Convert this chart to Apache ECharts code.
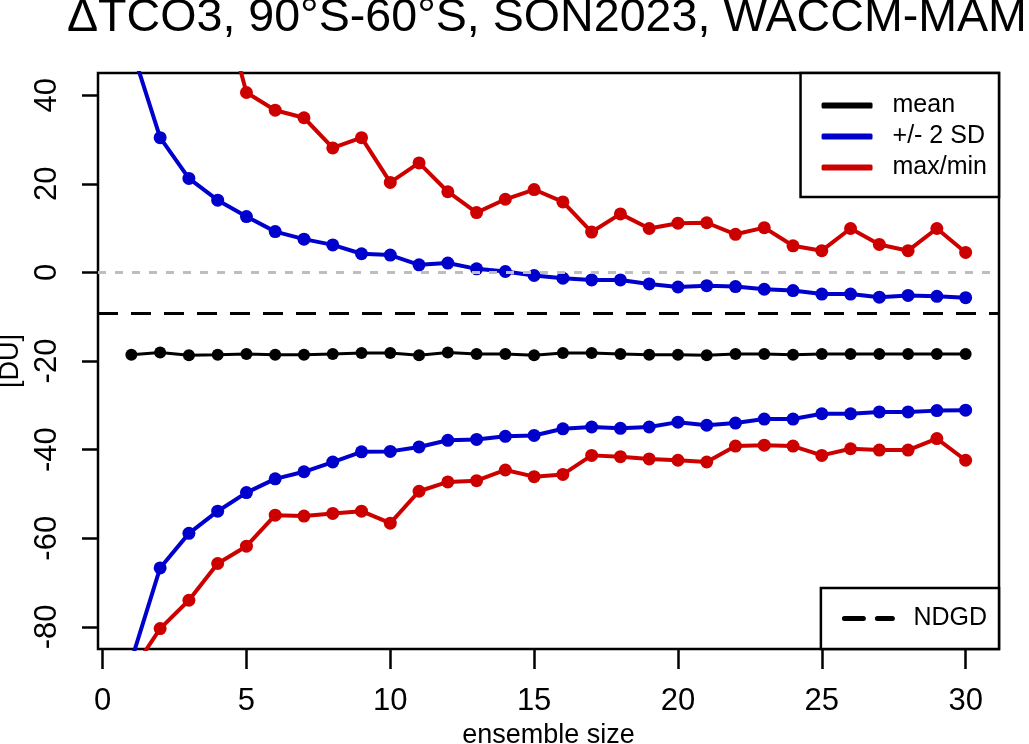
<!DOCTYPE html>
<html>
<head>
  <meta charset="utf-8">
  <title>TCO3 ensemble size</title>
  <script src="https://cdn.jsdelivr.net/npm/echarts@6/dist/echarts.min.js"></script>
  <style type="text/css">
    body {
      margin: 0;
      padding: 0;
      background: #fff;
    }
    #main {
      width: 1029px;
      height: 744px;
    }
  </style>
</head>
<body>
<div id="main"></div>
<script>
  // ensemble sizes 1..30
  var ensembleSize = [1, 2, 3, 4, 5, 6, 7, 8, 9, 10, 11, 12, 13, 14, 15,
    16, 17, 18, 19, 20, 21, 22, 23, 24, 25, 26, 27, 28, 29, 30];
  var meanVals = [-18.6, -18.1, -18.7, -18.6, -18.4, -18.6, -18.6, -18.4, -18.2, -18.2,
    -18.7, -18.1, -18.4, -18.4, -18.7, -18.2, -18.2, -18.4, -18.6, -18.6,
    -18.7, -18.4, -18.4, -18.6, -18.4, -18.4, -18.4, -18.4, -18.4, -18.4];
  var sdUpper = [50.8, 30.4, 21.2, 16.3, 12.6, 9.2, 7.5, 6.2, 4.2, 3.9,
    1.7, 2.1, 0.8, 0.2, -0.7, -1.3, -1.7, -1.7, -2.6, -3.3,
    -3.0, -3.2, -3.8, -4.1, -4.9, -4.9, -5.6, -5.2, -5.4, -5.7];
  var sdLower = [-87.6, -66.7, -58.9, -53.9, -49.7, -46.6, -45.0, -42.8, -40.5, -40.4,
    -39.4, -37.9, -37.7, -37.0, -36.8, -35.3, -34.9, -35.2, -34.9, -33.8,
    -34.5, -34.0, -33.1, -33.1, -31.9, -31.9, -31.5, -31.5, -31.2, -31.1];
  var maxVals = [70, 72, 68, 64.6, 40.6, 36.6, 34.9, 28.1, 30.4, 20.3,
    24.7, 18.2, 13.5, 16.5, 18.7, 15.9, 9.1, 13.2, 9.9, 11.1,
    11.2, 8.6, 10.1, 6.0, 4.9, 9.9, 6.3, 4.9, 9.9, 4.5];
  var minVals = [-90.2, -80.4, -74.0, -65.7, -61.8, -54.8, -55.0, -54.4, -53.9, -56.6,
    -49.4, -47.3, -47.0, -44.6, -46.1, -45.6, -41.3, -41.6, -42.1, -42.4,
    -42.8, -39.2, -39.0, -39.2, -41.3, -39.8, -40.1, -40.1, -37.5, -42.4];
  var ndgd = -9.2;
  var xTicks = [0, 5, 10, 15, 20, 25, 30];
  var yTicks = [-80, -60, -40, -20, 0, 20, 40];

  var FONT = 'Liberation Sans';
  var BLUE = '#0000CD';
  var RED = '#CD0000';

  function pairs(vals) {
    return ensembleSize.map(function (n, i) { return [n, vals[i]]; });
  }
  function lineSeries(name, vals, color, width, size) {
    return {
      name: name,
      type: 'line',
      data: pairs(vals),
      symbol: 'circle',
      symbolSize: size,
      showAllSymbol: true,
      lineStyle: { color: color, width: width },
      itemStyle: { color: color },
      emphasis: { disabled: true },
      z: 3
    };
  }

  var myChart = echarts.init(document.getElementById('main'));
  var option = {
    animation: false,
    textStyle: { fontFamily: FONT },
    title: {
      text: 'ΔTCO3, 90°S-60°S, SON2023, WACCM-MAM',
      left: 67,
      top: -5,
      padding: 0,
      textStyle: { fontFamily: FONT, fontSize: 46.6, fontWeight: 'normal', color: '#000' }
    },
    grid: {
      left: 98,
      top: 73,
      right: 30,
      bottom: 95,
      containLabel: false,
      outerBoundsMode: 'none',
      show: true,
      borderColor: '#000',
      borderWidth: 2.5,
      backgroundColor: 'transparent'
    },
    legend: [
      {
        data: ['mean', '+/- 2 SD', 'max/min'],
        orient: 'vertical',
        right: 30,
        top: 73,
        padding: [20, 12, 17, 21],
        itemGap: 6,
        itemWidth: 51,
        itemHeight: 6,
        icon: 'roundRect',
        borderColor: '#000',
        borderWidth: 2.5,
        borderRadius: 0,
        backgroundColor: '#fff',
        textStyle: { fontFamily: FONT, fontSize: 25, color: '#000', lineHeight: 24, padding: [0, 0, 0, 15] },
        selectedMode: false,
        z: 10
      },
      {
        data: ['NDGD'],
        orient: 'vertical',
        right: 30,
        bottom: 95,
        padding: [18, 12, 18, 21],
        itemWidth: 48,
        itemHeight: 6,
        itemStyle: { opacity: 0 },
        lineStyle: { width: 5, type: [19, 14], cap: 'round' },
        borderColor: '#000',
        borderWidth: 2.5,
        borderRadius: 0,
        backgroundColor: '#fff',
        textStyle: { fontFamily: FONT, fontSize: 25, color: '#000', lineHeight: 24, padding: [0, 0, 0, 16] },
        selectedMode: false,
        z: 10
      }
    ],
    xAxis: {
      type: 'value',
      min: -0.16,
      max: 31.16,
      name: 'ensemble size',
      nameLocation: 'middle',
      nameGap: 56,
      nameTextStyle: { fontFamily: FONT, fontSize: 27, color: '#000' },
      axisLine: { show: false, onZero: false },
      axisTick: {
        show: true,
        length: 20,
        customValues: xTicks,
        lineStyle: { color: '#000', width: 2.5 }
      },
      axisLabel: {
        customValues: xTicks,
        margin: 37,
        fontFamily: FONT,
        fontSize: 31,
        color: '#000'
      },
      splitLine: { show: false }
    },
    yAxis: {
      type: 'value',
      min: -85,
      max: 45,
      name: '[DU]',
      nameLocation: 'middle',
      nameRotate: 90,
      nameGap: 74,
      nameTextStyle: { fontFamily: FONT, fontSize: 27, color: '#000' },
      axisLine: { show: false, onZero: false },
      axisTick: {
        show: true,
        length: 16,
        customValues: yTicks,
        lineStyle: { color: '#000', width: 2.5 }
      },
      axisLabel: {
        customValues: yTicks,
        rotate: 90,
        margin: 35,
        fontFamily: FONT,
        fontSize: 31,
        color: '#000'
      },
      splitLine: { show: false }
    },
    series: [
      {
        name: 'zero',
        type: 'line',
        data: [],
        markLine: {
          silent: true,
          symbol: 'none',
          label: { show: false },
          lineStyle: { color: '#BEBEBE', width: 3, type: [8, 9] },
          data: [{ yAxis: 0 }]
        },
        z: 1
      },
      {
        name: 'NDGD',
        type: 'line',
        data: [],
        symbol: 'none',
        lineStyle: { color: '#000', width: 3, type: [20, 13] },
        itemStyle: { color: '#000' },
        markLine: {
          silent: true,
          symbol: 'none',
          label: { show: false },
          lineStyle: { color: '#000', width: 3, type: [20, 13] },
          data: [{ yAxis: ndgd }]
        },
        z: 1
      },
      lineSeries('mean', meanVals, '#000', 3, 12),
      lineSeries('+/- 2 SD', sdUpper, BLUE, 4, 13),
      lineSeries('+/- 2 SD', sdLower, BLUE, 4, 13),
      lineSeries('max/min', maxVals, RED, 4, 13),
      lineSeries('max/min', minVals, RED, 4, 13)
    ]
  };
  myChart.setOption(option);
  window.addEventListener("resize", function () {
    myChart.resize();
  });
</script>
</body>
</html>
